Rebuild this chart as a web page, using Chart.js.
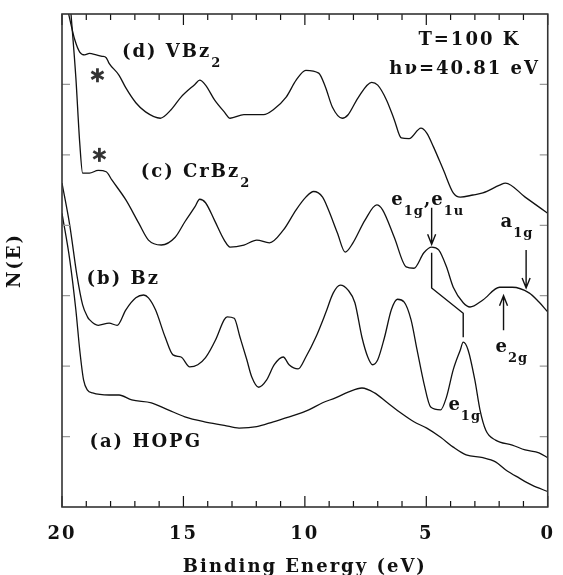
<!DOCTYPE html>
<html>
<head>
<meta charset="utf-8">
<title>UPS spectra</title>
<script src="https://cdn.jsdelivr.net/npm/chart.js@4.4.1/dist/chart.umd.min.js"></script>
<style>
  html, body { margin: 0; padding: 0; background: #fff; }
</style>
</head>
<body>
<canvas id="spectra" width="563" height="575"></canvas>
<script>
// --- Spectra: binding energy (eV) / N(E) (arb. units) ---
const hopgE = [20.0, 19.68, 19.43, 19.27, 19.11, 18.95, 18.74, 18.06, 17.65, 17.13, 16.32, 15.63, 14.94, 14.13, 13.32, 12.71, 11.98, 11.30, 10.36, 9.84, 9.27, 8.74, 8.22, 7.65, 7.13, 6.60, 6.03, 5.51, 4.98, 4.41, 3.89, 3.36, 2.67, 2.15, 1.74, 1.17, 0.65, 0.0];
const hopgN = [4.17, 3.51, 2.80, 2.23, 1.80, 1.66, 1.62, 1.59, 1.59, 1.52, 1.48, 1.38, 1.28, 1.21, 1.16, 1.12, 1.14, 1.21, 1.31, 1.38, 1.48, 1.55, 1.63, 1.69, 1.62, 1.48, 1.33, 1.21, 1.12, 0.99, 0.85, 0.74, 0.70, 0.64, 0.53, 0.41, 0.31, 0.22];

const bzE = [20.0, 19.68, 19.39, 19.15, 18.95, 18.87, 18.51, 18.06, 17.73, 17.37, 16.96, 16.64, 16.44, 16.15, 15.75, 15.43, 15.10, 14.74, 14.41, 14.09, 13.68, 13.32, 13.20, 12.91, 12.67, 12.39, 12.19, 11.90, 11.58, 11.26, 10.89, 10.65, 10.28, 9.96, 9.55, 9.15, 8.83, 8.54, 8.22, 7.94, 7.65, 7.41, 7.21, 7.00, 6.72, 6.44, 6.19, 5.91, 5.63, 5.38, 5.10, 4.82, 4.41, 4.17, 3.89, 3.60, 3.48, 3.28, 3.00, 2.79, 2.55, 2.15, 1.46, 0.93, 0.36, 0.0];
const bzN = [4.60, 4.00, 3.30, 2.87, 2.70, 2.66, 2.58, 2.61, 2.58, 2.80, 2.97, 3.01, 2.97, 2.80, 2.41, 2.16, 2.13, 1.99, 2.02, 2.12, 2.37, 2.66, 2.70, 2.68, 2.41, 2.09, 1.85, 1.70, 1.80, 2.02, 2.13, 2.02, 1.96, 2.13, 2.41, 2.75, 3.04, 3.15, 3.08, 2.90, 2.41, 2.13, 2.02, 2.09, 2.41, 2.80, 2.95, 2.91, 2.66, 2.23, 1.76, 1.42, 1.38, 1.56, 1.95, 2.23, 2.34, 2.23, 1.80, 1.38, 1.09, 0.95, 0.88, 0.81, 0.77, 0.70];

const crbzE = [19.64, 19.43, 19.27, 19.15, 18.87, 18.51, 18.18, 17.94, 17.37, 16.84, 16.44, 15.91, 15.34, 14.94, 14.53, 14.33, 14.09, 13.72, 13.32, 13.08, 12.51, 11.98, 11.46, 10.89, 10.36, 9.96, 9.64, 9.27, 9.03, 8.66, 8.34, 8.02, 7.53, 7.04, 6.80, 6.32, 5.83, 5.51, 5.10, 4.78, 4.49, 4.17, 3.89, 3.48, 3.20, 2.67, 1.98, 1.46, 0.77, 0.36, 0.0];
const crbzN = [7.05, 6.10, 5.17, 4.74, 4.74, 4.78, 4.76, 4.64, 4.36, 4.03, 3.79, 3.72, 3.83, 4.05, 4.26, 4.37, 4.32, 4.07, 3.79, 3.69, 3.72, 3.79, 3.75, 3.93, 4.22, 4.40, 4.48, 4.40, 4.22, 3.89, 3.62, 3.75, 4.07, 4.29, 4.22, 3.83, 3.41, 3.39, 3.61, 3.69, 3.65, 3.41, 3.12, 2.90, 2.84, 2.94, 3.12, 3.12, 3.04, 2.91, 2.77];

const vbzE = [19.76, 19.47, 19.27, 19.07, 18.87, 18.59, 18.35, 18.18, 18.06, 17.65, 17.37, 16.96, 16.56, 15.95, 15.51, 15.10, 14.53, 14.33, 14.09, 13.72, 13.32, 13.08, 12.51, 11.70, 11.30, 10.77, 10.36, 9.96, 9.43, 9.15, 8.87, 8.46, 8.22, 7.81, 7.25, 7.00, 6.64, 6.32, 6.03, 5.71, 5.22, 4.98, 4.70, 4.29, 3.89, 3.60, 3.08, 2.67, 1.98, 1.74, 0.93, 0.0];
const vbzN = [7.05, 6.63, 6.46, 6.42, 6.44, 6.42, 6.40, 6.38, 6.30, 6.13, 5.95, 5.74, 5.61, 5.52, 5.64, 5.82, 6.00, 6.06, 5.99, 5.78, 5.61, 5.52, 5.57, 5.57, 5.64, 5.82, 6.06, 6.20, 6.16, 5.96, 5.68, 5.52, 5.57, 5.81, 6.03, 5.99, 5.78, 5.50, 5.24, 5.23, 5.38, 5.31, 5.11, 4.78, 4.46, 4.40, 4.43, 4.46, 4.57, 4.60, 4.40, 4.17];

const xTicks = [20, 15, 10, 5, 0];
const yTicks = [1, 2, 3, 4, 5, 6];

const INK = '#111';
const SERIF = '"DejaVu Serif", "Liberation Serif", serif';

function pts(es, ns) {
    return es.map((e, i) => ({ x: e, y: ns[i] }));
}

// --- Helpers for the hand-placed labels ---
function textRun(ctx, parts, x, y, align) {
    // parts: [text, isSubscript]
    const fontFor = sub => (sub ? 'bold 13px ' : 'bold 18px ') + SERIF;
    let total = 0;
    parts.forEach(([t, sub]) => { ctx.font = fontFor(sub); total += ctx.measureText(t).width; });
    let cx = align === 'right' ? x - total : x;
    parts.forEach(([t, sub]) => {
        ctx.font = fontFor(sub);
        ctx.fillText(t, cx, sub ? y + 10 : y);
        cx += ctx.measureText(t).width;
    });
}

function arrow(ctx, x1, y1, x2, y2) {
    ctx.beginPath();
    ctx.moveTo(x1, y1);
    ctx.lineTo(x2, y2);
    const dir = Math.sign(y2 - y1);
    ctx.moveTo(x2 - 4, y2 - dir * 10);
    ctx.lineTo(x2, y2);
    ctx.lineTo(x2 + 4, y2 - dir * 10);
    ctx.stroke();
}

function asterisk(ctx, x, y) {
    ctx.save();
    ctx.lineWidth = 2.8;
    ctx.lineCap = 'butt';
    [90, 30, 150].forEach(a => {
        const r = a * Math.PI / 180;
        ctx.beginPath();
        ctx.moveTo(x - 7 * Math.cos(r), y - 7 * Math.sin(r));
        ctx.lineTo(x + 7 * Math.cos(r), y + 7 * Math.sin(r));
        ctx.stroke();
    });
    ctx.restore();
}

const figurePlugin = {
    id: 'figureDecor',
    beforeDraw(chart) {
        chart.ctx.letterSpacing = '2px';
    },
    afterDraw(chart) {
        const { ctx, chartArea: a, scales: { x, y } } = chart;
        const px = v => x.getPixelForValue(v);
        const py = v => y.getPixelForValue(v);
        ctx.save();

        // inward tick marks
        ctx.lineWidth = 1.2;
        ctx.strokeStyle = INK;
        for (let e = 0; e <= 20; e++) {
            const len = e % 5 === 0 ? 11 : 6;
            ctx.beginPath();
            ctx.moveTo(px(e), a.bottom); ctx.lineTo(px(e), a.bottom - len);
            ctx.moveTo(px(e), a.top); ctx.lineTo(px(e), a.top + len);
            ctx.stroke();
        }
        ctx.strokeStyle = '#999';
        yTicks.forEach(n => {
            ctx.beginPath();
            ctx.moveTo(a.left, py(n)); ctx.lineTo(a.left + 8, py(n));
            ctx.moveTo(a.right, py(n)); ctx.lineTo(a.right - 8, py(n));
            ctx.stroke();
        });

        // frame
        ctx.lineWidth = 1.6;
        ctx.strokeStyle = '#333';
        ctx.strokeRect(a.left, a.top, a.right - a.left, a.bottom - a.top);

        // curve labels
        ctx.fillStyle = INK;
        ctx.textBaseline = 'alphabetic';
        ctx.textAlign = 'left';
        ctx.letterSpacing = '2px';
        textRun(ctx, [['(d) VBz', false], ['2', true]], px(17.53), py(6.39));
        textRun(ctx, [['(c) CrBz', false], ['2', true]], px(16.76), py(4.69));
        textRun(ctx, [['(b) Bz', false]], px(18.99), py(3.17));
        textRun(ctx, [['(a) HOPG', false]], px(18.87), py(0.85));
        textRun(ctx, [['T=100 K', false]], px(1.54) + 10, py(6.56), 'right');
        textRun(ctx, [['h\u03bd=40.81 eV', false]], px(0.73) + 10, py(6.15), 'right');

        ctx.letterSpacing = '1px';
        textRun(ctx, [['e', false], ['1g', true], [',e', false], ['1u', true]], px(6.44), py(4.29));
        textRun(ctx, [['a', false], ['1g', true]], px(1.94), py(3.98));
        textRun(ctx, [['e', false], ['2g', true]], px(2.15), py(2.20));
        textRun(ctx, [['e', false], ['1g', true]], px(4.09), py(1.38));

        asterisk(ctx, px(18.54), py(6.13));
        asterisk(ctx, px(18.46), py(5.0));

        // arrows and the e1g correlation line
        ctx.strokeStyle = INK;
        ctx.lineWidth = 1.4;
        arrow(ctx, px(4.78), py(4.25), px(4.78), py(3.73));
        arrow(ctx, px(0.89), py(3.65), px(0.89), py(3.11));
        arrow(ctx, px(1.82), py(2.51), px(1.82), py(3.0));
        ctx.beginPath();
        ctx.moveTo(px(4.78), py(3.61));
        ctx.lineTo(px(4.78), py(3.11));
        ctx.lineTo(px(3.48), py(2.75));
        ctx.lineTo(px(3.48), py(2.41));
        ctx.stroke();

        ctx.restore();
    }
};

const lineStyle = { borderColor: INK, borderWidth: 1.3, pointRadius: 0, cubicInterpolationMode: 'monotone', fill: false };

new Chart(document.getElementById('spectra'), {
    type: 'line',
    data: {
        datasets: [
            { label: '(a) HOPG', data: pts(hopgE, hopgN), ...lineStyle },
            { label: '(b) Bz', data: pts(bzE, bzN), ...lineStyle },
            { label: '(c) CrBz2', data: pts(crbzE, crbzN), ...lineStyle },
            { label: '(d) VBz2', data: pts(vbzE, vbzN), ...lineStyle }
        ]
    },
    options: {
        responsive: false,
        animation: false,
        layout: { padding: { top: 14, right: 7, left: 0, bottom: 0 } },
        plugins: { legend: { display: false }, tooltip: { enabled: false } },
        scales: {
            x: {
                type: 'linear',
                reverse: true,
                min: 0,
                max: 20,
                afterFit: s => { s.height = 68; },
                afterBuildTicks: s => { s.ticks = xTicks.map(v => ({ value: v })); },
                grid: { display: false },
                border: { display: false },
                ticks: { padding: 9, color: INK, maxRotation: 0, font: { family: SERIF, size: 18, weight: 'bold' } },
                title: { display: true, text: 'Binding Energy (eV)', color: INK, padding: { top: 0, bottom: -3 }, font: { family: SERIF, size: 18, weight: 'bold' } }
            },
            y: {
                min: 0,
                max: 7,
                afterFit: s => { s.width = 62; },
                grid: { display: false },
                border: { display: false },
                ticks: { display: false },
                title: { display: true, text: 'N(E)', color: INK, padding: 5, font: { family: SERIF, size: 18, weight: 'bold' } }
            }
        }
    },
    plugins: [figurePlugin]
});
</script>
</body>
</html>
